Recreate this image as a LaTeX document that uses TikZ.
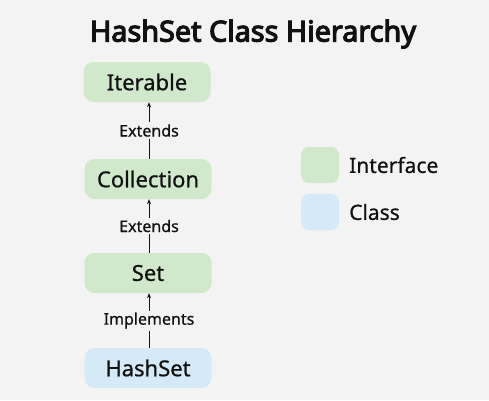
\documentclass[tikz,border=0pt]{standalone}
\usepackage{fontspec}
\setmainfont{Noto Sans}
\newfontfamily\titlefont{Noto Sans}[FakeBold=4]
\newfontfamily\medfont{Noto Sans}[FakeBold=0.6]
\usetikzlibrary{arrows.meta}
\definecolor{bg}{HTML}{F3F3F3}
\definecolor{ifc}{HTML}{D0E9CA}
\definecolor{cls}{HTML}{D4EAF8}
\definecolor{ink}{HTML}{111111}
\begin{document}
\begin{tikzpicture}[x=1pt,y=-1pt,
  box/.style={rounded corners=10pt,minimum width=127pt,minimum height=40pt,inner sep=0pt,font=\medfont\fontsize{22}{26}\selectfont,text=ink},
  ibox/.style={box,fill=ifc},
  cbox/.style={box,fill=cls},
  lab/.style={fill=bg,inner sep=2pt,font=\medfont\fontsize{16}{19}\selectfont,text=ink},
  arr/.style={draw=ink,line width=0.8pt,-{Stealth[length=5pt,width=4pt]}},
  swatch/.style={rounded corners=8pt,minimum width=38pt,minimum height=36pt,inner sep=0pt},
  leg/.style={anchor=west,font=\medfont\fontsize{21}{25}\selectfont,text=ink,inner sep=0pt}]
\fill[bg] (0,0) rectangle (489,400);
\useasboundingbox (0,0) rectangle (489,400);
\node[font=\titlefont\fontsize{28.8}{33}\selectfont,text=ink] (title) at (253,34) {HashSet Class Hierarchy};
\node[ibox] (iter) at (147,82) {Iterable};
\node[ibox] (coll) at (148,179) {Collection};
\node[ibox] (set) at (148,273) {Set};
\node[cbox] (hs) at (148,368) {HashSet};
\draw[arr] (coll.north -| 149,0) -- node[lab] {Extends} (iter.south -| 149,0);
\draw[arr] (set.north -| 149,0) -- node[lab] {Extends} (coll.south -| 149,0);
\draw[arr] (hs.north -| 149,0) -- node[lab] {Implements} (set.south -| 149,0);
\node[swatch,fill=ifc] (sw1) at (320,165) {};
\node[swatch,fill=cls] (sw2) at (320,212) {};
\node[leg] (l1) at (349,165) {Interface};
\node[leg] (l2) at (349,212) {Class};
\end{tikzpicture}
\end{document}
